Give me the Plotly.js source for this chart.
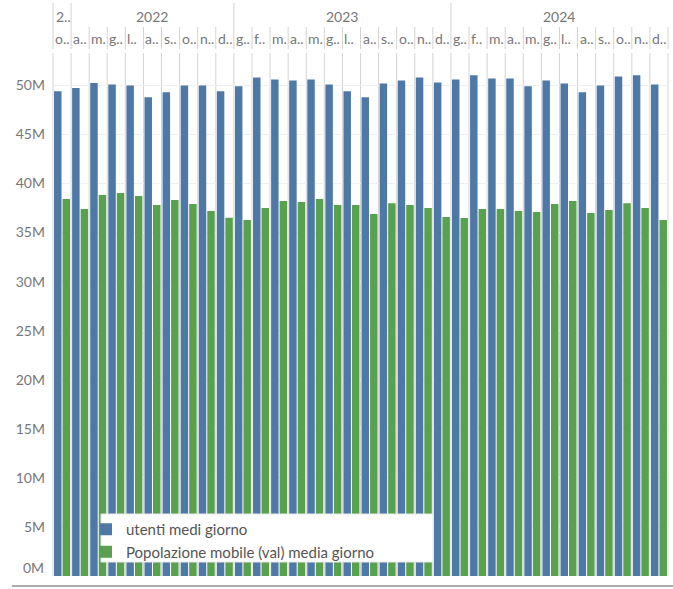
<!DOCTYPE html>
<html>
<head>
<meta charset="utf-8">
<script src="https://cdn.plot.ly/plotly-3.0.1.min.js"></script>
<style>html,body{margin:0;padding:0;background:#fff;}#chart{width:673px;height:589px;}</style>
</head>
<body>
<div id="chart"></div>
<script>
// Column header labels (as shown, truncated)
const yearLabels = ["2..", "2022", "2023", "2024"];
const yearSpans = [[0, 0], [1, 9], [10, 21], [22, 33]]; // column index ranges
const monthLabels = ["o..",
  "a..","m.","g..","l..","a..","s..","o..","n..","d..",
  "g..","f..","m.","a..","m.","g..","l..","a..","s..","o..","n..","d..",
  "g..","f..","m.","a..","m.","g..","l..","a..","s..","o..","n..","d.."];

// Values in millions
const utentiMediGiorno = [49.39, 49.73, 50.24, 50.1, 50.0, 48.78, 49.29, 50.0, 50.0, 49.39,
  49.9, 50.81, 50.61, 50.51, 50.61, 50.1, 49.39, 48.78, 50.2, 50.51, 50.81, 50.3,
  50.61, 51.02, 50.71, 50.71, 49.9, 50.51, 50.2, 49.29, 50.0, 50.91, 51.02, 50.1];
const popolazioneMobile = [38.41, 37.4, 38.82, 39.02, 38.72, 37.8, 38.31, 37.9, 37.2, 36.5,
  36.28, 37.5, 38.21, 38.11, 38.41, 37.8, 37.8, 36.89, 38.0, 37.8, 37.5, 36.59,
  36.48, 37.4, 37.4, 37.2, 37.09, 37.9, 38.21, 36.99, 37.3, 38.0, 37.5, 36.28];
const yTicks = [5, 10, 15, 20, 25, 30, 35, 40, 45, 50];
const yTickText = yTicks.map(v => v + "M");

const seriesNames = ["utenti medi giorno", "Popolazione mobile (val) media giorno"];

const W = 673, H = 589;
const M = {l: 53, r: 5, t: 53, b: 13};
const plotH = H - M.t - M.b;
const n = monthLabels.length;
const idx = monthLabels.map((_, i) => i);
const py = px => (H - M.b - px) / plotH; // pixel y -> paper y
const pxX = px => (px - M.l) / (W - M.l - M.r);

const FONT = "Lato, 'Open Sans', sans-serif";
const lineCol = "#d3d3d3";
const shapes = [];
const yearStarts = new Set(yearSpans.map(s => s[0]));
for (let k = 0; k <= n; k++) {
  const isYear = yearStarts.has(k);
  // header segment
  shapes.push({type: "line", xref: "paper", yref: "paper",
    x0: k / n, x1: k / n, y0: py(49), y1: isYear ? py(3) : py(27),
    line: {color: lineCol, width: 1}, layer: "below"});
  // plot segment
  shapes.push({type: "line", xref: "paper", yref: "paper",
    x0: k / n, x1: k / n, y0: 0, y1: 1,
    line: {color: lineCol, width: 1}, layer: "below"});
}
// legend box
shapes.push({type: "rect", xref: "paper", yref: "paper",
  x0: pxX(101), x1: pxX(433), y0: py(562), y1: py(514),
  fillcolor: "#ffffff", line: {color: "#e8e8e8", width: 1}, layer: "above"});
// bottom rule
shapes.push({type: "line", xref: "paper", yref: "paper",
  x0: pxX(12), x1: pxX(673), y0: py(586), y1: py(586),
  line: {color: "#8f8f8f", width: 1.5}});

const annotations = [];
const hdrFont = {family: FONT, size: 14, color: "#777777"};
yearSpans.forEach((s, j) => {
  if (s[0] === s[1]) {
    annotations.push({xref: "x", yref: "paper", x: s[0] - 0.5, y: py(17), xanchor: "left", yanchor: "middle",
      xshift: 1, text: yearLabels[j], showarrow: false, font: hdrFont});
  } else {
    annotations.push({xref: "x", yref: "paper", x: (s[0] + s[1]) / 2, y: py(17), xanchor: "center", yanchor: "middle",
      text: yearLabels[j], showarrow: false, font: hdrFont});
  }
});
monthLabels.forEach((m, i) => {
  annotations.push({xref: "x", yref: "paper", x: i - 0.5, y: py(38), xanchor: "left", yanchor: "middle",
    xshift: 0, text: m, showarrow: false, font: hdrFont});
});
annotations.push({xref: "paper", yref: "paper", x: 0, y: py(567), xanchor: "right", yanchor: "middle",
  xshift: -7, text: "0M", showarrow: false, font: {family: FONT, size: 14, color: "#777777"}});

const data = [
  {type: "bar", name: seriesNames[0], x: idx, y: utentiMediGiorno, marker: {color: "#4e79a7"}, hoverinfo: "y+name"},
  {type: "bar", name: seriesNames[1], x: idx, y: popolazioneMobile, marker: {color: "#59a14f"}, hoverinfo: "y+name"}
];

const layout = {
  width: W, height: H,
  margin: M,
  paper_bgcolor: "#ffffff", plot_bgcolor: "#ffffff",
  barmode: "group", bargap: 0.06, bargroupgap: 0.12,
  font: {family: FONT, color: "#777777"},
  xaxis: {range: [-0.5, n - 0.5], showticklabels: false, showgrid: false, zeroline: false, showline: false, ticks: "", fixedrange: true},
  yaxis: {range: [0, 53.3], tickmode: "array", tickvals: yTicks, ticktext: yTickText, showgrid: true, gridcolor: "#efefef", gridwidth: 1,
    zeroline: false, showline: false, ticks: "", ticklabelstandoff: 7,
    tickfont: {family: FONT, size: 14, color: "#777777"}, fixedrange: true},
  showlegend: true,
  legend: {x: pxX(86), y: py(513), xanchor: "left", yanchor: "top", bgcolor: "rgba(0,0,0,0)", borderwidth: 0,
    font: {family: FONT, size: 15, color: "#555555"}, traceorder: "normal"},
  shapes: shapes,
  annotations: annotations
};

Plotly.newPlot("chart", data, layout, {displayModeBar: false, staticPlot: true});
</script>
</body>
</html>
